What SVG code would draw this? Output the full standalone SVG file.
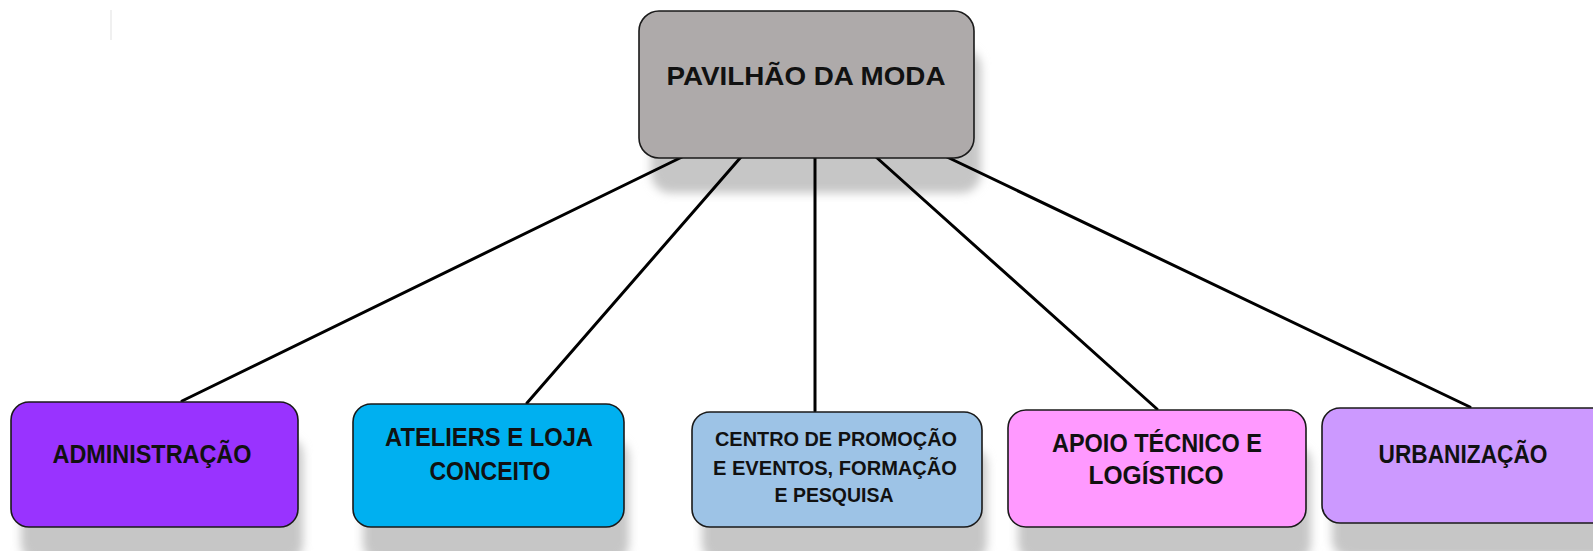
<svg xmlns="http://www.w3.org/2000/svg" width="1593" height="551" viewBox="0 0 1593 551">
<defs>
<filter id="sh" x="-20%" y="-40%" width="140%" height="180%">
<feGaussianBlur stdDeviation="5"/>
</filter>
<style>
.box{stroke:#1a1a1a;stroke-width:1.6}
.shadow{fill:#c6c6c6;filter:url(#sh)}
.t{font-family:"Liberation Sans",Arial,sans-serif;font-weight:bold;fill:#111;text-anchor:middle}
.big{font-size:26px}
.small{font-size:20px}
.conn line{stroke:#000;stroke-width:3;stroke-linecap:round}
</style>
</defs>
<rect width="1593" height="551" fill="#fff"/>
<line x1="111" y1="10" x2="111" y2="40" stroke="#f0f0f0" stroke-width="2"/>
<g id="shadows">
<rect class="shadow" x="651" y="48" width="330" height="145" rx="20"/>
<rect class="shadow" x="21" y="437" width="282" height="125" rx="18"/>
<rect class="shadow" x="363" y="439" width="266" height="123" rx="18"/>
<rect class="shadow" x="702" y="447" width="285" height="115" rx="18"/>
<rect class="shadow" x="1018" y="445" width="293" height="117" rx="18"/>
<rect class="shadow" x="1332" y="443" width="290" height="115" rx="18"/>
</g>
<g id="connectors" class="conn">
<line x1="682" y1="157" x2="182" y2="401"/>
<line x1="741" y1="157" x2="527" y2="403"/>
<line x1="815" y1="157" x2="815" y2="411"/>
<line x1="876" y1="157" x2="1157" y2="409"/>
<line x1="947" y1="157" x2="1470" y2="407"/>
</g>
<g id="pavilhao">
<rect class="box" x="639" y="11" width="335" height="147" rx="20" fill="#AEAAAA"/>
<text class="t big" x="806" y="85" textLength="279" lengthAdjust="spacingAndGlyphs" font-size="27">PAVILHÃO DA MODA</text>
</g>
<g id="administracao">
<rect class="box" x="11" y="402" width="287" height="125" rx="18" fill="#9933FF"/>
<text class="t big" x="152" y="463" textLength="199" lengthAdjust="spacingAndGlyphs">ADMINISTRAÇÃO</text>
</g>
<g id="ateliers">
<rect class="box" x="353" y="404" width="271" height="123" rx="18" fill="#00B0F0"/>
<text class="t big" x="489" y="446" textLength="208" lengthAdjust="spacingAndGlyphs">ATELIERS E LOJA</text>
<text class="t big" x="490" y="480" textLength="121" lengthAdjust="spacingAndGlyphs">CONCEITO</text>
</g>
<g id="centro">
<rect class="box" x="692" y="412" width="290" height="115" rx="18" fill="#9DC3E6"/>
<text class="t small" x="836" y="446" textLength="242" lengthAdjust="spacingAndGlyphs">CENTRO DE PROMOÇÃO</text>
<text class="t small" x="835" y="475" textLength="244" lengthAdjust="spacingAndGlyphs">E EVENTOS, FORMAÇÃO</text>
<text class="t small" x="834" y="502" textLength="119" lengthAdjust="spacingAndGlyphs">E PESQUISA</text>
</g>
<g id="apoio">
<rect class="box" x="1008" y="410" width="298" height="117" rx="18" fill="#FF99FF"/>
<text class="t big" x="1157" y="452" textLength="210" lengthAdjust="spacingAndGlyphs">APOIO TÉCNICO E</text>
<text class="t big" x="1156" y="484" textLength="135" lengthAdjust="spacingAndGlyphs">LOGÍSTICO</text>
</g>
<g id="urbanizacao">
<rect class="box" x="1322" y="408" width="290" height="115" rx="18" fill="#CC99FF"/>
<text class="t big" x="1463" y="463" textLength="169" lengthAdjust="spacingAndGlyphs">URBANIZAÇÃO</text>
</g>
</svg>
